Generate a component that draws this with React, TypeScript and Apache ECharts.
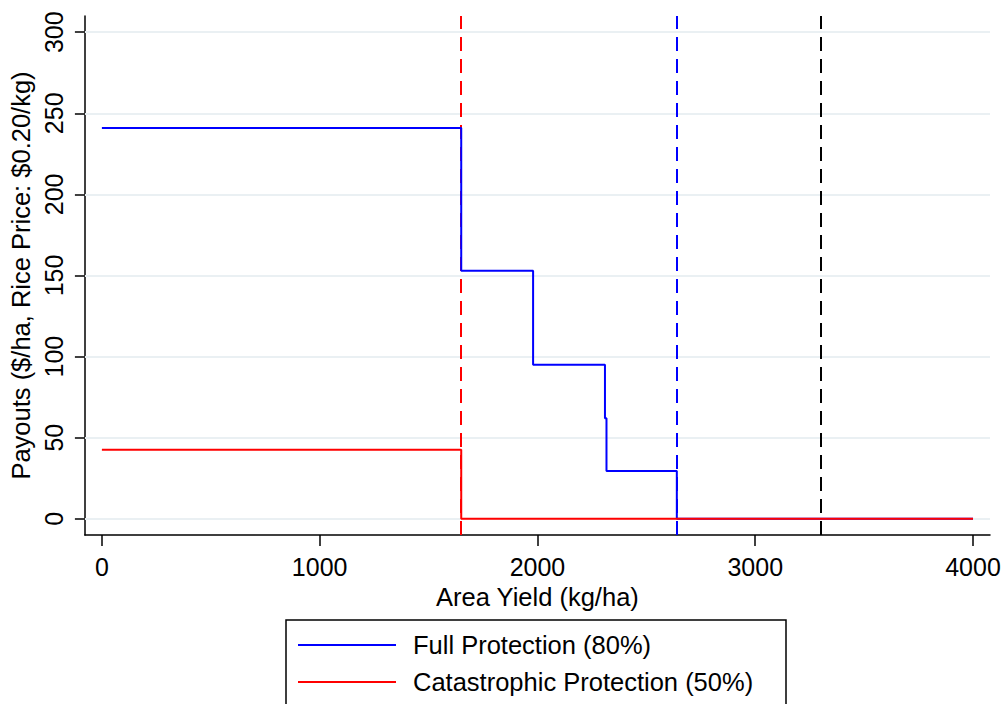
import React, { useEffect, useRef } from 'react';
import * as echarts from 'echarts';

const xTicks = [0, 1000, 2000, 3000, 4000];
const yTicks = [0, 50, 100, 150, 200, 250, 300];
const fullX = [0, 1650, 1650, 1980, 1980, 2310, 2310, 2317, 2317, 2640, 2640, 4000];
const fullY = [241, 241, 153, 153, 95, 95, 62, 62, 29.5, 29.5, 0, 0];
const catX = [0, 1650, 1650, 4000];
const catY = [42.5, 42.5, 0, 0];
const refLines = [1650, 2640, 3300];
const refColors = ['#ff0000', '#0000ff', '#000000'];
const seriesNames = ['Full Protection (80%)', 'Catastrophic Protection (50%)'];

const FONT = '"Liberation Sans", Arial, sans-serif';

export default function App() {
  const ref = useRef<HTMLDivElement>(null);
  useEffect(() => {
    if (!ref.current) return;
    const chart = echarts.init(ref.current, null, { renderer: 'svg' });
    const full = fullX.map((x, i) => [x, fullY[i]]);
    const cat = catX.map((x, i) => [x, catY[i]]);
    chart.setOption({
      animation: false,
      backgroundColor: '#ffffff',
      textStyle: { fontFamily: FONT },
      grid: { left: 83, right: 17, top: 16, bottom: 169, containLabel: false },
      xAxis: {
        type: 'value',
        min: -78,
        max: 4078,
        name: 'Area Yield (kg/ha)',
        nameLocation: 'middle',
        nameGap: 38,
        nameTextStyle: { color: '#000', fontSize: 25.5, fontFamily: FONT },
        axisLine: { show: true, onZero: false, lineStyle: { color: '#000', width: 1.5 } },
        axisTick: { show: true, length: 11, customValues: xTicks, lineStyle: { color: '#000', width: 1.5 } },
        axisLabel: {
          customValues: xTicks,
          color: '#000',
          fontSize: 25,
          margin: 19,
          fontFamily: FONT,
          formatter: (v: number) => String(v),
        },
        splitLine: { show: false },
      },
      yAxis: {
        type: 'value',
        min: -10,
        max: 310,
        name: 'Payouts ($/ha, Rice Price: $0.20/kg)',
        nameLocation: 'middle',
        nameGap: 47,
        nameRotate: 90,
        nameTextStyle: { color: '#000', fontSize: 25.5, fontFamily: FONT },
        axisLine: { show: true, onZero: false, lineStyle: { color: '#000', width: 1.5 } },
        axisTick: { show: true, length: 10, customValues: yTicks, lineStyle: { color: '#000', width: 1.5 } },
        axisLabel: {
          customValues: yTicks,
          rotate: 90,
          color: '#000',
          fontSize: 25,
          margin: 18,
          fontFamily: FONT,
          formatter: (v: number) => String(v),
        },
        splitLine: { show: false },
      },
      legend: {
        orient: 'vertical',
        left: 298,
        top: 632,
        padding: 0,
        itemGap: 11,
        itemWidth: 98,
        itemHeight: 2,
        icon: 'rect',
        data: seriesNames,
        textStyle: { color: '#000', fontSize: 25.5, lineHeight: 26, fontFamily: FONT, padding: [0, 0, 0, 12] },
      },
      graphic: [
        {
          type: 'rect',
          shape: { x: 286, y: 620, width: 500, height: 110 },
          style: { fill: 'none', stroke: '#000', lineWidth: 1.5 },
          silent: true,
        },
      ],
      series: [
        {
          type: 'line',
          name: 'grid',
          data: [],
          silent: true,
          z: 1,
          markLine: {
            silent: true,
            z: 1,
            symbol: 'none',
            label: { show: false },
            lineStyle: { color: '#eaf0f3', width: 2, type: 'solid' },
            data: yTicks.map((v) => ({ yAxis: v })),
          },
        },
        {
          type: 'line',
          name: 'refs',
          data: [],
          silent: true,
          z: 2,
          markLine: {
            silent: true,
            z: 2,
            symbol: 'none',
            label: { show: false },
            data: refLines.map((v, i) => ({
              xAxis: v,
              lineStyle: { color: refColors[i], width: 2, type: [14, 8] },
            })),
          },
        },
        {
          type: 'line',
          name: seriesNames[0],
          data: full,
          showSymbol: false,
          symbol: 'none',
          z: 3,
          lineStyle: { color: '#0000ff', width: 2 },
          itemStyle: { color: '#0000ff' },
        },
        {
          type: 'line',
          name: seriesNames[1],
          data: cat,
          showSymbol: false,
          symbol: 'none',
          z: 4,
          lineStyle: { color: '#ff0000', width: 2 },
          itemStyle: { color: '#ff0000' },
        },
      ],
    });
    return () => chart.dispose();
  }, []);
  return (
    <div
      ref={ref}
      style={{ position: 'fixed', left: 0, top: 0, width: 1007, height: 704, background: '#fff' }}
    />
  );
}
